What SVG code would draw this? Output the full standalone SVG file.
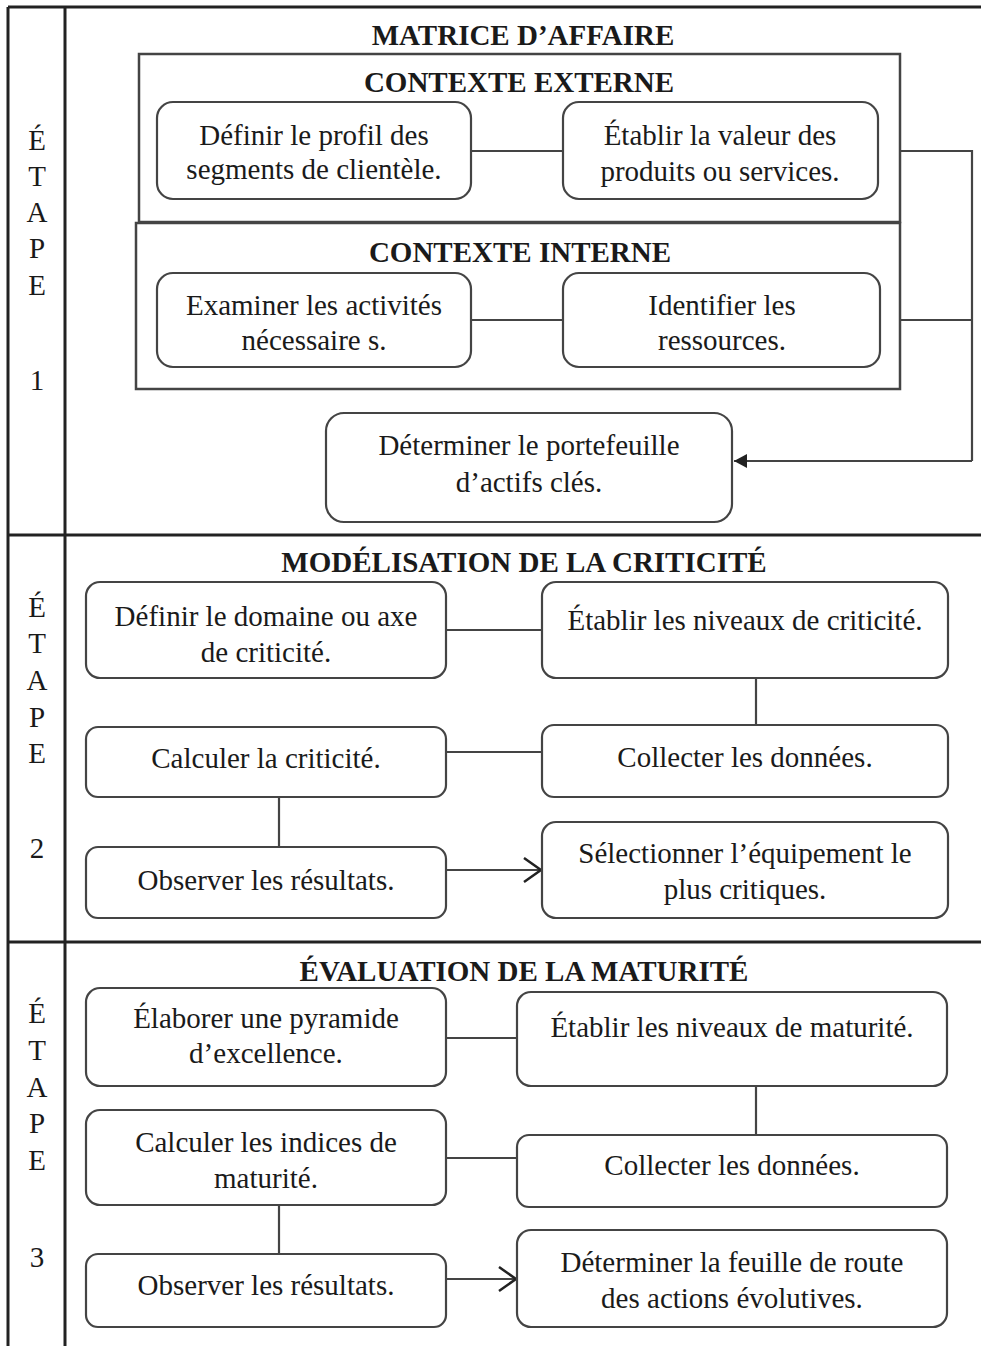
<svg xmlns="http://www.w3.org/2000/svg" width="981" height="1346" viewBox="0 0 981 1346">
<style>
.frame{fill:none;stroke:#222;stroke-width:3}
.ctx{fill:none;stroke:#444;stroke-width:2.5}
.box{fill:#fff;stroke:#444;stroke-width:2.2}
.ln{fill:none;stroke:#444;stroke-width:2.2}
text{font-family:"Liberation Serif","Times New Roman",serif;fill:#1a1a1a}
.t{font-size:29px;text-anchor:middle}
.h{font-size:29px;font-weight:bold;text-anchor:middle}
.s{font-size:29px;text-anchor:middle}
</style>
<defs>
<marker id="fill" markerWidth="14" markerHeight="14" refX="13" refY="7" orient="auto" markerUnits="userSpaceOnUse">
<path d="M0,0 L13,7 L0,14 Z" fill="#222"/>
</marker>
<marker id="open" markerWidth="22" markerHeight="28" refX="19" refY="13" orient="auto" markerUnits="userSpaceOnUse">
<path d="M2,1 L19,13 L2,25" fill="none" stroke="#222" stroke-width="2.5"/>
</marker>
</defs>
<rect width="981" height="1346" fill="#fff"/>
<g id="frame">
<line class="frame" x1="8" y1="7" x2="981" y2="7" stroke-width="2"/>
<line class="frame" x1="8" y1="7" x2="8" y2="1346" stroke-width="2"/>
<line class="frame" x1="65" y1="7" x2="65" y2="1346"/>
<line class="frame" x1="8" y1="535" x2="981" y2="535"/>
<line class="frame" x1="8" y1="942" x2="981" y2="942"/>
</g>
<g id="etape1">
<text class="s" x="37" y="150">É</text><text class="s" x="37" y="186">T</text><text class="s" x="37" y="222">A</text><text class="s" x="37" y="258">P</text><text class="s" x="37" y="295">E</text><text class="s" x="37" y="390">1</text>
</g>
<g id="etape2">
<text class="s" x="37" y="617">É</text><text class="s" x="37" y="653">T</text><text class="s" x="37" y="690">A</text><text class="s" x="37" y="727">P</text><text class="s" x="37" y="763">E</text><text class="s" x="37" y="858">2</text>
</g>
<g id="etape3">
<text class="s" x="37" y="1023">É</text><text class="s" x="37" y="1060">T</text><text class="s" x="37" y="1097">A</text><text class="s" x="37" y="1133">P</text><text class="s" x="37" y="1170">E</text><text class="s" x="37" y="1267">3</text>
</g>
<g id="titles">
<text class="h" x="523" y="45">MATRICE D’AFFAIRE</text>
<text class="h" x="524" y="572">MODÉLISATION DE LA CRITICITÉ</text>
<text class="h" x="524" y="981">ÉVALUATION DE LA MATURITÉ</text>
</g>
<g id="contexte-externe">
<rect class="ctx" x="139" y="54" width="761" height="168"/>
<text class="h" x="519" y="92">CONTEXTE EXTERNE</text>
</g>
<g id="contexte-interne">
<rect class="ctx" x="136" y="223" width="764" height="166"/>
<text class="h" x="520" y="262">CONTEXTE INTERNE</text>
</g>
<g id="connectors">
<line class="ln" x1="471" y1="151" x2="563" y2="151"/>
<line class="ln" x1="471" y1="320" x2="563" y2="320"/>
<polyline class="ln" points="900,151 972,151 972,461"/>
<line class="ln" x1="900" y1="320" x2="972" y2="320"/>
<line class="ln" x1="972" y1="461" x2="734" y2="461" marker-end="url(#fill)"/>
<line class="ln" x1="446" y1="630" x2="542" y2="630"/>
<line class="ln" x1="756" y1="678" x2="756" y2="726"/>
<line class="ln" x1="446" y1="752" x2="542" y2="752"/>
<line class="ln" x1="279" y1="797" x2="279" y2="847"/>
<line class="ln" x1="446" y1="870" x2="541" y2="870" marker-end="url(#open)"/>
<line class="ln" x1="446" y1="1038" x2="517" y2="1038"/>
<line class="ln" x1="756" y1="1086" x2="756" y2="1135"/>
<line class="ln" x1="446" y1="1158" x2="517" y2="1158"/>
<line class="ln" x1="279" y1="1205" x2="279" y2="1254"/>
<line class="ln" x1="446" y1="1279" x2="516" y2="1279" marker-end="url(#open)"/>
</g>
<g id="n-profil"><rect class="box" x="157" y="102" width="314" height="97" rx="16"/><text class="t" x="314" y="145">Définir le profil des</text><text class="t" x="314" y="179">segments de clientèle.</text></g>
<g id="n-valeur"><rect class="box" x="563" y="102" width="315" height="97" rx="16"/><text class="t" x="720" y="145">Établir la valeur des</text><text class="t" x="720" y="181">produits ou services.</text></g>
<g id="n-activites"><rect class="box" x="157" y="273" width="314" height="94" rx="16"/><text class="t" x="314" y="315">Examiner les activités</text><text class="t" x="314" y="350">nécessaire s.</text></g>
<g id="n-ressources"><rect class="box" x="563" y="273" width="317" height="94" rx="16"/><text class="t" x="722" y="315">Identifier les</text><text class="t" x="722" y="350">ressources.</text></g>
<g id="n-portefeuille"><rect class="box" x="326" y="413" width="406" height="109" rx="18"/><text class="t" x="529" y="455">Déterminer le portefeuille</text><text class="t" x="529" y="492">d’actifs clés.</text></g>
<g id="c-domaine"><rect class="box" x="86" y="582" width="360" height="96" rx="14"/><text class="t" x="266" y="626">Définir le domaine ou axe</text><text class="t" x="266" y="662">de criticité.</text></g>
<g id="c-niveaux"><rect class="box" x="542" y="582" width="406" height="96" rx="14"/><text class="t" x="745" y="630">Établir les niveaux de criticité.</text></g>
<g id="c-calculer"><rect class="box" x="86" y="727" width="360" height="70" rx="12"/><text class="t" x="266" y="768">Calculer la criticité.</text></g>
<g id="c-collecter"><rect class="box" x="542" y="725" width="406" height="72" rx="12"/><text class="t" x="745" y="767">Collecter les données.</text></g>
<g id="c-observer"><rect class="box" x="86" y="847" width="360" height="71" rx="12"/><text class="t" x="266" y="890">Observer les résultats.</text></g>
<g id="c-selectionner"><rect class="box" x="542" y="822" width="406" height="96" rx="14"/><text class="t" x="745" y="863">Sélectionner l’équipement le</text><text class="t" x="745" y="899">plus critiques.</text></g>
<g id="m-pyramide"><rect class="box" x="86" y="988" width="360" height="98" rx="14"/><text class="t" x="266" y="1028">Élaborer une pyramide</text><text class="t" x="266" y="1063">d’excellence.</text></g>
<g id="m-niveaux"><rect class="box" x="517" y="992" width="430" height="94" rx="14"/><text class="t" x="732" y="1037">Établir les niveaux de maturité.</text></g>
<g id="m-indices"><rect class="box" x="86" y="1110" width="360" height="95" rx="14"/><text class="t" x="266" y="1152">Calculer les indices de</text><text class="t" x="266" y="1188">maturité.</text></g>
<g id="m-collecter"><rect class="box" x="517" y="1135" width="430" height="72" rx="12"/><text class="t" x="732" y="1175">Collecter les données.</text></g>
<g id="m-observer"><rect class="box" x="86" y="1254" width="360" height="73" rx="12"/><text class="t" x="266" y="1295">Observer les résultats.</text></g>
<g id="m-feuille"><rect class="box" x="517" y="1230" width="430" height="97" rx="14"/><text class="t" x="732" y="1272">Déterminer la feuille de route</text><text class="t" x="732" y="1308">des actions évolutives.</text></g>
</svg>
